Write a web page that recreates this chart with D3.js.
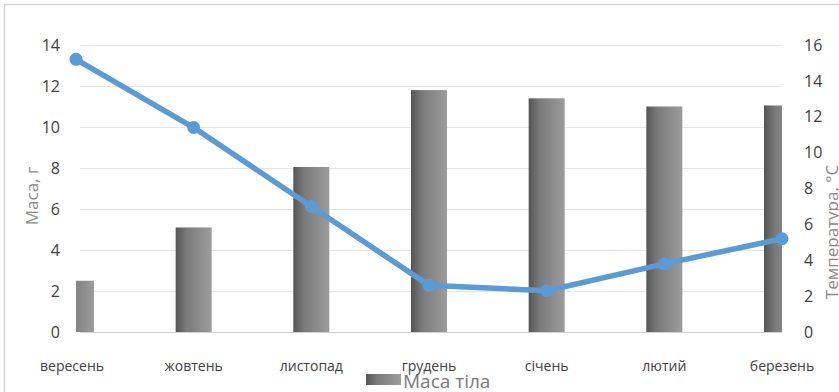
<!DOCTYPE html>
<html>
<head>
<meta charset="utf-8">
<script src="https://cdnjs.cloudflare.com/ajax/libs/d3/7.8.5/d3.min.js"></script>
<style>
body { margin: 0; background: #fff; font-family: 'Open Sans', 'Noto Sans', sans-serif; }
svg { display: block; }
</style>
</head>
<body>
<div id="chart"></div>
<script>
var months = ["вересень", "жовтень", "листопад", "грудень", "січень", "лютий", "березень"];
var mass = [2.5, 5.1, 8.05, 11.8, 11.4, 11.0, 11.05];
var temperature = [15.2, 11.4, 7.0, 2.6, 2.3, 3.8, 5.2];
var leftTicks = [0, 2, 4, 6, 8, 10, 12, 14];
var rightTicks = [0, 2, 4, 6, 8, 10, 12, 14, 16];

var width = 839, height = 392;
var plot = { left: 76, right: 782, top: 45, bottom: 332 };

var svg = d3.select("#chart").append("svg")
  .attr("width", width).attr("height", height);

// chart frame
svg.append("rect")
  .attr("x", 4.5).attr("y", 4.5)
  .attr("width", width + 10).attr("height", height + 10)
  .style("fill", "#fff").style("stroke", "#d4d4d4").style("stroke-width", 1.5);

var defs = svg.append("defs");
var grad = defs.append("linearGradient").attr("id", "barGrad")
  .attr("x1", "0%").attr("x2", "100%").attr("y1", "0%").attr("y2", "0%");
grad.append("stop").attr("offset", "0%").attr("stop-color", "#555555");
grad.append("stop").attr("offset", "30%").attr("stop-color", "#7a7a7a");
grad.append("stop").attr("offset", "100%").attr("stop-color", "#9c9c9c");

defs.append("clipPath").attr("id", "plotClip").append("rect")
  .attr("x", plot.left).attr("y", 0)
  .attr("width", plot.right - plot.left).attr("height", plot.bottom);

var xScale = d3.scalePoint().domain(months).range([plot.left, plot.right]);
var yLeft = d3.scaleLinear().domain([0, 14]).range([plot.bottom, plot.top]);
var yRight = d3.scaleLinear().domain([0, 16]).range([plot.bottom, plot.top]);

// gridlines
svg.selectAll("line.grid").data(leftTicks).enter()
  .append("line")
  .attr("class", "grid")
  .attr("x1", plot.left + 4).attr("x2", plot.right)
  .attr("y1", d => Math.round(yLeft(d)) + 0.5)
  .attr("y2", d => Math.round(yLeft(d)) + 0.5)
  .style("stroke", d => d == 0 ? "#d0d0d0" : "#e6e6e6")
  .style("stroke-width", 1.2);

// bars
var barWidth = 36;
svg.append("g").attr("clip-path", "url(#plotClip)")
  .selectAll("rect").data(mass).enter()
  .append("rect")
  .attr("x", (d, i) => xScale(months[i]) - barWidth / 2)
  .attr("y", d => yLeft(d))
  .attr("width", barWidth)
  .attr("height", d => yLeft(0) - yLeft(d))
  .style("fill", "url(#barGrad)");

// temperature line
var line = d3.line()
  .x((d, i) => xScale(months[i]))
  .y(d => yRight(d));

svg.append("path").datum(temperature)
  .attr("d", line)
  .style("fill", "none")
  .style("stroke", "#5b9bd5")
  .style("stroke-width", 5.5)
  .style("stroke-linejoin", "round");

svg.selectAll("circle.pt").data(temperature).enter()
  .append("circle")
  .attr("class", "pt")
  .attr("cx", (d, i) => xScale(months[i]))
  .attr("cy", d => yRight(d))
  .attr("r", 6.5)
  .style("fill", "#5b9bd5");

// left axis
var leftAxis = d3.axisLeft(yLeft).tickValues(leftTicks).tickSize(0).tickPadding(0);
var gl = svg.append("g").attr("transform", "translate(60,0)").call(leftAxis);
gl.select(".domain").remove();
gl.selectAll("text").style("font-size", "16px").style("fill", "#404040")
  .style("font-family", "'Open Sans', sans-serif");

// right axis
var rightAxis = d3.axisRight(yRight).tickValues(rightTicks).tickSize(0).tickPadding(0);
var gr = svg.append("g").attr("transform", "translate(804,0)").call(rightAxis);
gr.select(".domain").remove();
gr.selectAll("text").style("font-size", "16px").style("fill", "#404040")
  .style("font-family", "'Open Sans', sans-serif");

// category labels
svg.selectAll("text.cat").data(months).enter()
  .append("text")
  .attr("class", "cat")
  .attr("x", d => xScale(d) - (d == months[0] ? 4 : 0))
  .attr("y", 371)
  .attr("text-anchor", "middle")
  .style("font-size", "14px")
  .style("fill", "#404040")
  .text(d => d);

// axis titles
svg.append("text")
  .attr("transform", "translate(38,196) rotate(-90)")
  .attr("text-anchor", "middle")
  .style("font-size", "17px").style("fill", "#8a8a8a")
  .text("Маса, г");

svg.append("text")
  .attr("transform", "translate(838,232) rotate(-90)")
  .attr("text-anchor", "middle")
  .style("font-size", "17px").style("fill", "#8a8a8a")
  .text("Температура, °С");

// legend
svg.append("rect")
  .attr("x", 366).attr("y", 374).attr("width", 35).attr("height", 11)
  .style("fill", "url(#barGrad)");
svg.append("text")
  .attr("x", 403).attr("y", 388)
  .style("font-size", "19px").style("fill", "#7a7a7a")
  .text("Маса тіла");
</script>
</body>
</html>
